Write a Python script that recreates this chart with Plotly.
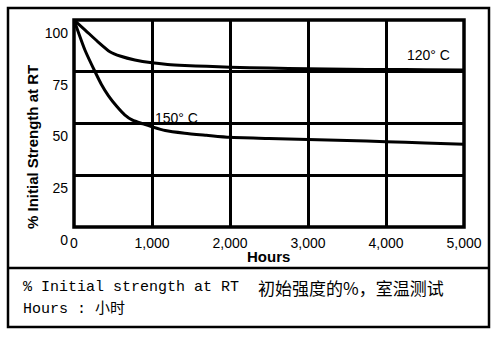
import plotly.graph_objects as go

# ---- data ----
hours_120 = [0, 150, 300, 460, 600, 780, 1000, 1200, 1420, 1700, 2000, 2500, 3000, 3500, 4000, 4500, 5000]
strength_120 = [100, 94.9, 89.7, 84.7, 82.5, 80.7, 79.3, 78.5, 78.0, 77.6, 77.2, 76.8, 76.4, 76.2, 76.1, 76.0, 75.9]

hours_150 = [0, 140, 270, 350, 440, 550, 650, 750, 885, 1000, 1170, 1420, 1700, 2000, 2500, 3000, 3500, 4000, 4500, 5000]
strength_150 = [100, 85.5, 75, 69, 63.5, 58.2, 54.2, 51.6, 49.8, 48.4, 46.6, 45.3, 44.3, 43.3, 42.8, 42.3, 41.8, 41.2, 40.6, 40.0]

x_ticks = [0, 1000, 2000, 3000, 4000, 5000]
y_ticks = [0, 25, 50, 75, 100]

label_120 = "120° C"
label_150 = "150° C"
y_title = "% Initial Strength at RT"
x_title = "Hours"
note_line1_en = "% Initial strength at RT "
note_line1_cn = "初始强度的%，室温测试"
note_line2 = "Hours : 小时"

# ---- layout geometry (pixels) ----
W, H = 497, 337
L, R, T, B = 74, 464, 20, 227


def px(x):
    return (x - L) / (R - L)


def py(y):
    return (B - y) / (B - T)


fig = go.Figure()
for hx, sy in [(hours_120, strength_120), (hours_150, strength_150)]:
    fig.add_trace(go.Scatter(x=hx, y=sy, mode="lines",
                             line=dict(color="black", width=3, shape="spline", smoothing=0.6),
                             hoverinfo="skip", showlegend=False))

sans = "Liberation Sans, Arial"
fig.add_annotation(x=4551, y=83.1, text=label_120, showarrow=False,
                   xanchor="center", yanchor="middle",
                   font=dict(size=14, color="black", family=sans))
fig.add_annotation(x=1314, y=52.7, text=label_150, showarrow=False,
                   xanchor="center", yanchor="middle",
                   font=dict(size=14, color="black", family=sans))

# axis titles
fig.add_annotation(xref="paper", yref="paper", x=px(32), y=py(147), text="<b>" + y_title + "</b>",
                   textangle=-90, showarrow=False, xanchor="center", yanchor="middle",
                   font=dict(size=15, color="black", family=sans))
fig.add_annotation(xref="paper", yref="paper", x=px(268), y=py(256), text="<b>" + x_title + "</b>",
                   showarrow=False, xanchor="center", yanchor="middle",
                   font=dict(size=15, color="black", family=sans))

# note text
mono = "Liberation Mono, Noto Sans CJK SC"
fig.add_annotation(xref="paper", yref="paper", x=px(21), y=py(287), xanchor="left", yanchor="middle",
                   text=note_line1_en, showarrow=False,
                   font=dict(size=15, color="black", family=mono))
fig.add_annotation(xref="paper", yref="paper", x=px(256), y=py(287), xanchor="left", yanchor="middle",
                   text=note_line1_cn, showarrow=False,
                   font=dict(size=17, color="black", family="Noto Sans CJK SC"))
fig.add_annotation(xref="paper", yref="paper", x=px(21), y=py(309), xanchor="left", yanchor="middle",
                   text=note_line2, showarrow=False,
                   font=dict(size=15, color="black", family=mono))

# frames
shapes = [
    dict(type="rect", xref="paper", yref="paper", x0=px(8), x1=px(489), y0=py(8), y1=py(327),
         line=dict(color="black", width=2.5), layer="above"),
    dict(type="line", xref="paper", yref="paper", x0=px(8), x1=px(489), y0=py(268), y1=py(268),
         line=dict(color="black", width=2.5), layer="above"),
    dict(type="rect", xref="paper", yref="paper", x0=0, x1=1, y0=0, y1=1,
         line=dict(color="black", width=3.5), layer="above"),
]

fig.update_layout(
    width=W, height=H,
    margin=dict(l=L, r=W - R, t=T, b=H - B, pad=0),
    paper_bgcolor="white", plot_bgcolor="white",
    font=dict(family=sans, size=14, color="black"),
    showlegend=False,
    shapes=shapes,
    xaxis=dict(range=[0, 5000], tickvals=x_ticks, tickformat=",d", showgrid=True,
               gridcolor="black", gridwidth=2.5, zeroline=False, showline=False,
               ticks="", ticklabelstandoff=6, tickfont=dict(size=14)),
    yaxis=dict(range=[0, 100], tickvals=y_ticks, showgrid=True,
               gridcolor="black", gridwidth=2.5, zeroline=False, showline=False,
               ticks="", ticklabelshift=13, ticklabelstandoff=5, tickfont=dict(size=14)),
)

fig.write_html("out.html")
